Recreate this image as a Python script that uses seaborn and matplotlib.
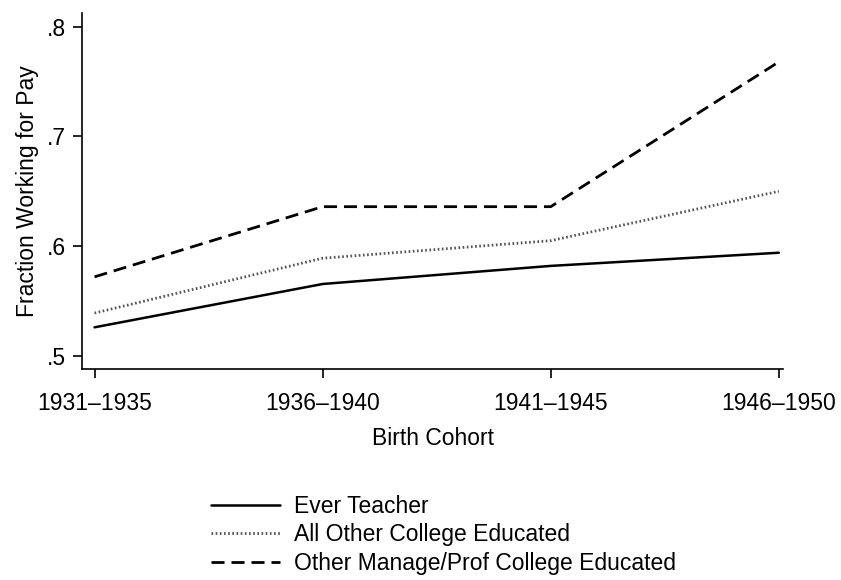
import matplotlib
matplotlib.use("Agg")
import matplotlib.pyplot as plt
import seaborn as sns
import pandas as pd

cohorts = ["1931–1935", "1936–1940", "1941–1945", "1946–1950"]
ever_teacher = [0.526, 0.5655, 0.582, 0.594]
all_other = [0.539, 0.589, 0.605, 0.650]
manage_prof = [0.572, 0.636, 0.636, 0.768]
series_names = ["Ever Teacher", "All Other College Educated",
                "Other Manage/Prof College Educated"]
y_ticks = [0.5, 0.6, 0.7, 0.8]
y_ticklabels = [".5", ".6", ".7", ".8"]

sns.set_theme(style="white")
plt.rcParams["font.family"] = ["Liberation Sans", "DejaVu Sans"]
plt.rcParams["text.color"] = "black"
plt.rcParams["axes.labelcolor"] = "black"
plt.rcParams["xtick.color"] = "black"
plt.rcParams["ytick.color"] = "black"

fig = plt.figure(figsize=(8.41, 5.8), dpi=100)
ax = fig.add_axes([0.0975, 0.3638, 0.834, 0.614])

styles = [
    dict(color="black", linestyle="-", linewidth=1.8),
    dict(color="#555555", linestyle=(0, (0.6, 0.9)), linewidth=2.0),
    dict(color="black", linestyle=(0, (4.7, 2.5)), linewidth=2.0),
]
for name, vals, st in zip(series_names, [ever_teacher, all_other, manage_prof], styles):
    df = pd.DataFrame({"cohort": cohorts, "value": vals})
    sns.lineplot(data=df, x="cohort", y="value", ax=ax, label=name,
                 sort=False, **st)

ax.set_xlim(-0.055, 3.02)
ax.set_ylim(0.488, 0.8127)
ax.set_yticks(y_ticks)
ax.set_yticklabels(y_ticklabels)
ax.set_xlabel("Birth Cohort", fontsize=16.5, labelpad=9)
ax.set_ylabel("Fraction Working for Pay", fontsize=16.5, labelpad=6)
ax.tick_params(axis="both", which="both", direction="out", length=6.5, width=1.2,
               labelsize=16.5, color="black", bottom=True, left=True, pad=5)
ax.tick_params(axis="x", pad=10)
for sp in ["top", "right"]:
    ax.spines[sp].set_visible(False)
for sp in ["left", "bottom"]:
    ax.spines[sp].set_color("black")
    ax.spines[sp].set_linewidth(1.2)

ax.get_legend().remove()
handles, labels = ax.get_legend_handles_labels()
fig.legend(handles, labels, loc="upper left", bbox_to_anchor=(0.24, 0.163),
           frameon=False, fontsize=16.5, handlelength=3.0, handletextpad=0.6,
           labelspacing=0.25, borderaxespad=0)

fig.savefig("out.png", dpi=100, facecolor="white")
